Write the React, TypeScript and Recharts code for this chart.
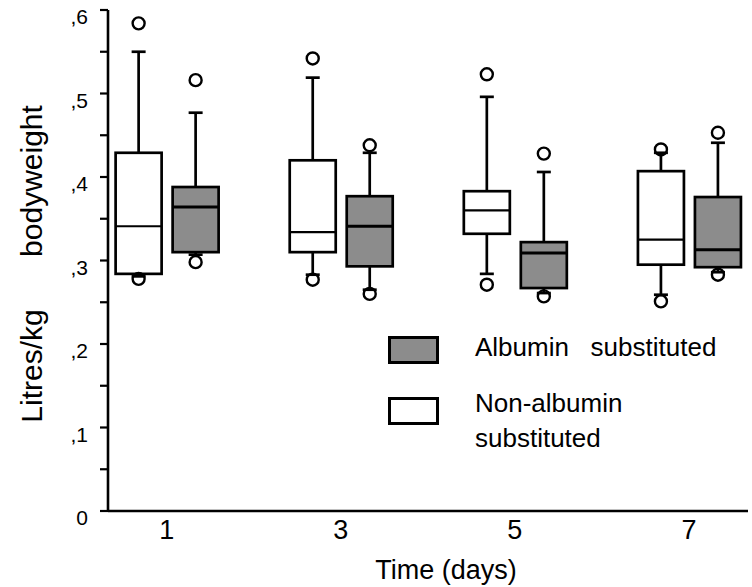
import { ComposedChart, Bar, XAxis, YAxis, Legend } from "recharts";

const FONT = "'Liberation Sans', Arial, Helvetica, sans-serif";
const GREY = "#8c8c8c";

const days = [1, 3, 5, 7];

// Non-albumin substituted (white boxes)
const nonAlbLow = [0.281, 0.283, 0.284, 0.259];
const nonAlbQ1 = [0.284, 0.31, 0.332, 0.295];
const nonAlbMedian = [0.341, 0.334, 0.36, 0.325];
const nonAlbQ3 = [0.429, 0.42, 0.383, 0.407];
const nonAlbHigh = [0.55, 0.519, 0.496, 0.429];
const nonAlbOutliers = [
  [0.278, 0.584],
  [0.277, 0.542],
  [0.271, 0.523],
  [0.251, 0.433],
];

// Albumin substituted (grey boxes)
const albLow = [0.307, 0.265, 0.261, 0.286];
const albQ1 = [0.31, 0.293, 0.267, 0.292];
const albMedian = [0.364, 0.341, 0.309, 0.313];
const albQ3 = [0.388, 0.377, 0.322, 0.376];
const albHigh = [0.477, 0.429, 0.406, 0.441];
const albOutliers = [
  [0.298, 0.516],
  [0.26, 0.438],
  [0.257, 0.428],
  [0.283, 0.453],
];

const yTicks = [0, 0.05, 0.1, 0.15, 0.2, 0.25, 0.3, 0.35, 0.4, 0.45, 0.5, 0.55, 0.6];
const yTickLabels = ["0", "", ",1", "", ",2", "", ",3", "", ",4", "", ",5", "", ",6"];

type Stats = {
  low: number;
  q1: number;
  median: number;
  q3: number;
  high: number;
  outliers: number[];
};

const span = (s: Stats) => {
  const all = [s.low, s.high, ...s.outliers];
  return [Math.min(...all), Math.max(...all)];
};

const data = days.map((day, i) => {
  const white: Stats = {
    low: nonAlbLow[i],
    q1: nonAlbQ1[i],
    median: nonAlbMedian[i],
    q3: nonAlbQ3[i],
    high: nonAlbHigh[i],
    outliers: nonAlbOutliers[i],
  };
  const grey: Stats = {
    low: albLow[i],
    q1: albQ1[i],
    median: albMedian[i],
    q3: albQ3[i],
    high: albHigh[i],
    outliers: albOutliers[i],
  };
  return { day, white, grey, whiteRange: span(white), greyRange: span(grey) };
});

/* box drawn inside the range bar; the bar's pixel extent maps [lo, hi] */
function makeBox(key: "white" | "grey", fill: string, medianWidth: number) {
  return (props: any) => {
    const { x, y, width, height, payload } = props;
    const s: Stats = payload[key];
    const [lo, hi] = payload[key + "Range"];
    const top = Math.min(y, y + height);
    const bot = Math.max(y, y + height);
    const py = (v: number) => top + ((hi - v) / (hi - lo)) * (bot - top);
    const cx = x + width / 2;
    const sw = 2.7;
    return (
      <g>
        <line x1={cx} x2={cx} y1={py(s.q3)} y2={py(s.high)} stroke="#000" strokeWidth={sw} />
        <line x1={cx - 7} x2={cx + 7} y1={py(s.high)} y2={py(s.high)} stroke="#000" strokeWidth={sw} />
        <line x1={cx} x2={cx} y1={py(s.q1)} y2={py(s.low)} stroke="#000" strokeWidth={sw} />
        <line x1={cx - 7} x2={cx + 7} y1={py(s.low)} y2={py(s.low)} stroke="#000" strokeWidth={sw} />
        <rect
          x={x}
          y={py(s.q3)}
          width={width}
          height={py(s.q1) - py(s.q3)}
          fill={fill}
          stroke="#000"
          strokeWidth={sw}
        />
        <line
          x1={x}
          x2={x + width}
          y1={py(s.median)}
          y2={py(s.median)}
          stroke="#000"
          strokeWidth={medianWidth}
        />
        {s.outliers.map((o, j) => (
          <circle key={j} cx={cx} cy={py(o)} r={6} fill="none" stroke="#000" strokeWidth={2.4} />
        ))}
      </g>
    );
  };
}

const XTick = ({ x, y, payload }: any) => (
  <text x={x} y={y + 28} textAnchor="middle" fontSize={27} fontFamily={FONT} fill="#000">
    {payload.value}
  </text>
);

const YTick = ({ x, y, index }: any) => (
  <text x={x} y={y + 14} textAnchor="end" fontSize={21} fontFamily={FONT} fill="#000">
    {yTickLabels[index] ?? ""}
  </text>
);

const YLabel = ({ viewBox }: any) => {
  const bx = viewBox.x + 42;
  const y1 = viewBox.y + 171;
  const y2 = viewBox.y + 356;
  return (
    <g fontFamily={FONT} fontSize={30} fill="#000">
      <text x={bx} y={y1} textAnchor="middle" transform={`rotate(-90, ${bx}, ${y1})`}>
        bodyweight
      </text>
      <text x={bx} y={y2} textAnchor="middle" transform={`rotate(-90, ${bx}, ${y2})`}>
        Litres/kg
      </text>
    </g>
  );
};

const XLabel = ({ viewBox }: any) => (
  <text
    x={viewBox.x + viewBox.width / 2 + 18}
    y={viewBox.y + 68}
    textAnchor="middle"
    fontSize={27}
    fontFamily={FONT}
    fill="#000"
  >
    Time (days)
  </text>
);

const legendItems = [
  { fill: GREY, lines: ["Albumin\u00a0\u00a0\u00a0substituted"] },
  { fill: "#fff", lines: ["Non-albumin", "substituted"] },
];

function LegendBox() {
  return (
    <div style={{ position: "relative", fontFamily: FONT, fontSize: 26, color: "#000" }}>
      {legendItems.map((item, i) => (
        <div key={i} style={{ position: "absolute", left: 0, top: i * 56, width: 360 }}>
          <div
            style={{
              position: "absolute",
              left: 2,
              top: 6 + i * 5,
              width: 45,
              height: 22,
              background: item.fill,
              border: "3px solid #000",
            }}
          />
          <div
            style={{
              position: "absolute",
              left: 89,
              top: 0,
              lineHeight: "35px",
              whiteSpace: "pre",
            }}
          >
            {item.lines.map((l, k) => (
              <div key={k}>{l}</div>
            ))}
          </div>
        </div>
      ))}
    </div>
  );
}

export default function App() {
  return (
    <div style={{ position: "absolute", left: 0, top: 0, background: "#fff" }}>
      <ComposedChart
        width={752}
        height={587}
        data={data}
        margin={{ top: 10, right: 4, bottom: 0, left: 0 }}
        barSize={46}
        barGap={11}
      >
        <XAxis
          dataKey="day"
          type="number"
          domain={[0.326, 7.678]}
          ticks={days}
          allowDataOverflow
          height={76}
          tickLine={false}
          tickSize={0}
          tickMargin={0}
          axisLine={{ stroke: "#000", strokeWidth: 2.6 }}
          tick={<XTick />}
          label={<XLabel />}
        />
        <YAxis
          type="number"
          domain={[0, 0.6]}
          ticks={yTicks}
          interval={0}
          width={108}
          tickSize={8}
          tickMargin={12}
          axisLine={{ stroke: "#000", strokeWidth: 2.6 }}
          tickLine={{ stroke: "#000", strokeWidth: 2.2 }}
          tick={<YTick />}
          label={<YLabel />}
        />
        <Legend
          layout="vertical"
          align="center"
          verticalAlign="middle"
          wrapperStyle={{ left: 386, top: 330, width: 360, height: 130 }}
          content={() => <LegendBox />}
        />
        <Bar dataKey="whiteRange" shape={makeBox("white", "#fff", 2.2)} isAnimationActive={false} />
        <Bar dataKey="greyRange" shape={makeBox("grey", GREY, 3)} isAnimationActive={false} />
      </ComposedChart>
    </div>
  );
}
